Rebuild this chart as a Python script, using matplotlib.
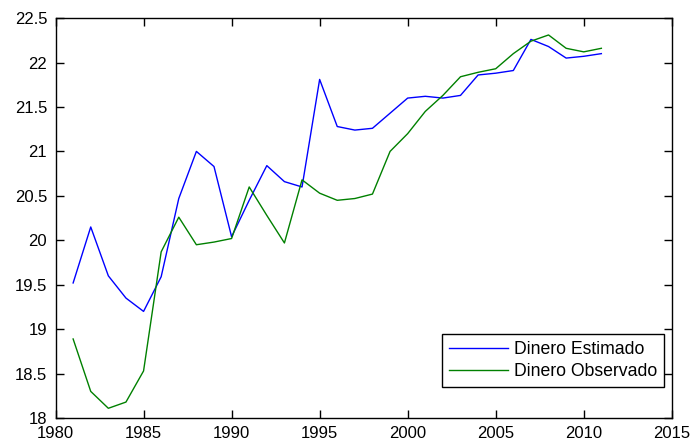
import matplotlib
matplotlib.use("Agg")
from matplotlib import pyplot as plt

plt.rcParams['font.family'] = ['Liberation Sans', 'DejaVu Sans']

anios = list(range(1981, 2012))

# Dinero estimado por el modelo (log)
estimado = [19.52, 20.15, 19.60, 19.35, 19.20, 19.59, 20.47, 21.00, 20.83, 20.04,
            20.45, 20.84, 20.66, 20.60, 21.81, 21.28, 21.24, 21.26, 21.43, 21.60,
            21.62, 21.60, 21.63, 21.86, 21.88, 21.91, 22.26, 22.18, 22.05, 22.07,
            22.10]

# Dinero observado (log)
observado = [18.89, 18.30, 18.11, 18.18, 18.53, 19.87, 20.26, 19.95, 19.98, 20.02,
             20.60, 20.28, 19.97, 20.68, 20.53, 20.45, 20.47, 20.52, 21.00, 21.20,
             21.45, 21.63, 21.84, 21.89, 21.93, 22.10, 22.24, 22.31, 22.16, 22.12,
             22.16]

xticks = [1980, 1985, 1990, 1995, 2000, 2005, 2010, 2015]
yticks = [18, 18.5, 19, 19.5, 20, 20.5, 21, 21.5, 22, 22.5]
ylabels = ['18', '18.5', '19', '19.5', '20', '20.5', '21', '21.5', '22', '22.5']

fig = plt.figure(figsize=(6.94, 4.41), dpi=100)
ax = fig.add_axes([0.080, 0.052, 0.888, 0.907])

ax.plot(anios, estimado, color='#0000ff', linewidth=1.0, label='Dinero Estimado')
ax.plot(anios, observado, color='#008000', linewidth=1.0, label='Dinero Observado')

ax.set_xlim(1980, 2015)
ax.set_ylim(18, 22.5)
ax.set_xticks(xticks)
ax.set_yticks(yticks)
ax.set_yticklabels(ylabels)
ax.tick_params(direction='in', length=6, width=1, labelsize=12, pad=6,
               top=True, right=True)
for s in ax.spines.values():
    s.set_linewidth(1.0)

leg = ax.legend(loc='lower right', bbox_to_anchor=(0.988, 0.077), fontsize=12.7,
                frameon=True, fancybox=False, edgecolor='black', framealpha=1,
                handlelength=3.3, handletextpad=0.35, borderpad=0.42,
                labelspacing=0.25, borderaxespad=0)
leg.get_frame().set_linewidth(1.0)

fig.savefig('out.png', dpi=100)
